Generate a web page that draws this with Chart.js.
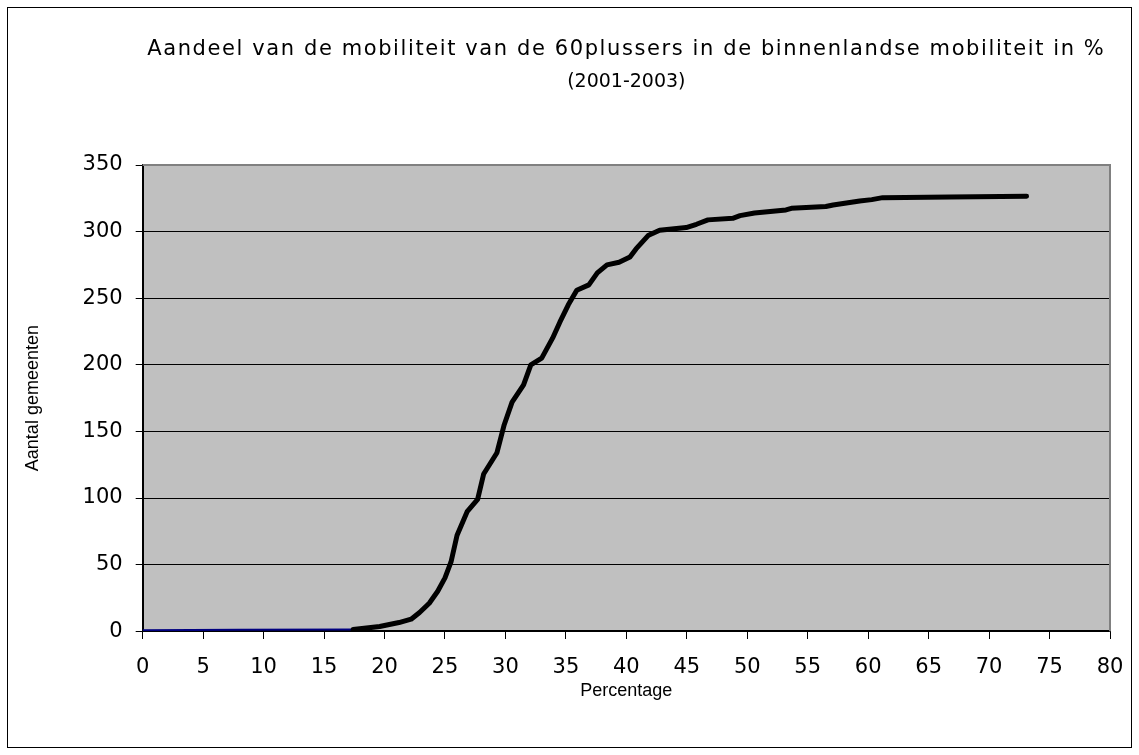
<!DOCTYPE html>
<html>
<head>
<meta charset="utf-8">
<script src="https://cdn.jsdelivr.net/npm/chart.js@4/dist/chart.umd.min.js"></script>
<style>
  html, body { margin: 0; padding: 0; background: #fff; }
  #wrap { width: 1139px; height: 755px; }
</style>
</head>
<body>
<div id="wrap"><canvas id="chart" width="1139" height="755"></canvas></div>
<script>
// ==========================================
// DATA
// ==========================================

// title lines
const titleText    = 'Aandeel van de mobiliteit van de 60plussers in de binnenlandse mobiliteit in %';
const subtitleText = '(2001-2003)';

// blue start segment: percentage / number of municipalities
const blue_pct   = [0, 8, 17.4];
const blue_count = [0.8, 1, 1.2];

// black cumulative curve: percentage / number of municipalities
const black_pct = [
    17.4, 19.6, 21.2, 22.2, 22.9, 23.7, 24.4, 25.0, 25.5, 26.0,
    26.85, 27.7, 28.2, 29.3, 29.9, 30.55, 31.5, 32.1, 33.0, 33.9,
    34.5, 35.2, 35.9, 36.9, 37.6, 38.4, 39.4, 40.3, 40.8, 41.8,
    42.75, 44.95, 45.8, 46.75, 48.8, 49.4, 50.6, 53.2, 53.65, 56.5,
    57.1, 59.3, 60.3, 61.2, 66.75, 73.1
];
const black_count = [
    1.2, 3.5, 6.5, 9, 14, 21, 30, 40, 52, 72,
    90, 99, 118, 134, 155, 172, 185, 200, 205, 220,
    232, 245, 256, 260, 269, 275, 277, 281, 287, 297,
    301, 303, 305.5, 308.8, 310, 312, 314, 316.3, 317.5, 318.8,
    320, 323, 324, 325.5, 326, 326.5
];

// axis ranges
const xMin = 0, xMax = 80, xStep = 5;
const yMin = 0, yMax = 350, yStep = 50;

function toPoints(xs, ys) {
    return xs.map((x, i) => ({ x: x, y: ys[i] }));
}

// ==========================================
// PLUGINS: frame, gray plot area, spaced title
// ==========================================
const framePlugin = {
    id: 'frame',
    beforeDraw(chart) {
        const ctx = chart.ctx;
        const a = chart.chartArea;
        ctx.save();
        ctx.fillStyle = '#fff';
        ctx.fillRect(0, 0, chart.width, chart.height);
        ctx.strokeStyle = '#000';
        ctx.lineWidth = 1;
        ctx.strokeRect(7.5, 7.5, 1124, 740);
        ctx.fillStyle = '#C0C0C0';
        ctx.fillRect(a.left, a.top, a.right - a.left, a.bottom - a.top);
        ctx.restore();

        // the main title is printed a bit spread out
        const tb = chart.titleBlock;
        if (tb && !tb._spaced) {
            const orig = tb.draw.bind(tb);
            tb.draw = function (area) {
                chart.ctx.save();
                chart.ctx.letterSpacing = '1.6px';
                orig(area);
                chart.ctx.restore();
            };
            tb._spaced = true;
        }
    },
    afterDatasetsDraw(chart) {
        const ctx = chart.ctx;
        const a = chart.chartArea;
        ctx.save();
        ctx.strokeStyle = '#808080';
        ctx.lineWidth = 2;
        ctx.beginPath();
        ctx.moveTo(a.left, a.top);
        ctx.lineTo(a.right, a.top);
        ctx.lineTo(a.right, a.bottom);
        ctx.stroke();
        ctx.restore();
    }
};

const tickFont  = { family: '"DejaVu Sans", sans-serif', size: 21 };
const labelFont = { family: '"Liberation Sans", Arial, sans-serif', size: 18 };

new Chart(document.getElementById('chart'), {
    type: 'scatter',
    data: {
        datasets: [
            {
                data: toPoints(black_pct, black_count),
                showLine: true,
                borderColor: '#000',
                borderWidth: 5,
                borderCapStyle: 'round',
                borderJoinStyle: 'round',
                pointRadius: 0,
                tension: 0
            },
            {
                data: toPoints(blue_pct, blue_count),
                showLine: true,
                borderColor: '#000080',
                borderWidth: 2,
                pointRadius: 0,
                tension: 0
            }
        ]
    },
    options: {
        responsive: false,
        animation: false,
        layout: { padding: { left: 0, right: 29, top: 0, bottom: 49 } },
        plugins: {
            legend: { display: false },
            tooltip: { enabled: false },
            title: {
                display: true,
                text: titleText,
                fullSize: false,
                color: '#000',
                font: { family: tickFont.family, size: 21, weight: 'normal', lineHeight: 1.2 },
                padding: { top: 37, bottom: 0 }
            },
            subtitle: {
                display: true,
                text: subtitleText,
                fullSize: false,
                color: '#000',
                font: { family: tickFont.family, size: 19, weight: 'normal', lineHeight: 1.2 },
                padding: { top: 8, bottom: 72 }
            }
        },
        scales: {
            x: {
                type: 'linear',
                min: xMin,
                max: xMax,
                ticks: { stepSize: xStep, color: '#000', font: tickFont, padding: 0, maxRotation: 0 },
                // long tick slot, only the first 7px are drawn as a mark
                grid: { drawOnChartArea: false, drawTicks: true, tickLength: 24, tickBorderDash: [7, 40], color: '#000' },
                border: { display: true, color: '#000', width: 2 },
                title: {
                    display: true,
                    text: 'Percentage',
                    color: '#000',
                    font: labelFont,
                    padding: { top: 0, bottom: 4 }
                }
            },
            y: {
                min: yMin,
                max: yMax,
                ticks: { stepSize: yStep, color: '#000', font: tickFont, padding: 13 },
                grid: { color: '#000', lineWidth: 1, tickLength: 7 },
                border: { display: true, color: '#000', width: 2 },
                title: {
                    display: true,
                    text: 'Aantal gemeenten',
                    color: '#000',
                    font: labelFont,
                    padding: { top: 22, bottom: 26 }
                }
            }
        }
    },
    plugins: [framePlugin]
});
</script>
</body>
</html>
